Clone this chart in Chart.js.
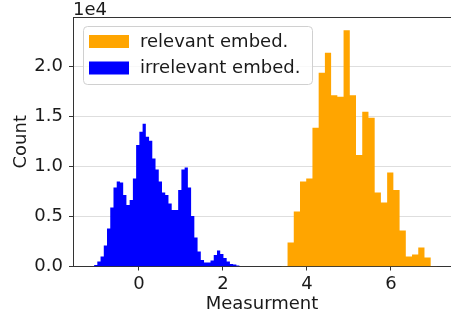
<!DOCTYPE html>
<html>
<head>
<meta charset="utf-8">
<script src="https://cdn.jsdelivr.net/npm/chart.js@4"></script>
<style>
body { margin: 0; background: #fff; }
#wrap { width: 451px; height: 320px; }
</style>
</head>
<body>
<div id="wrap"><canvas id="hist"></canvas></div>
<script>
const seriesNames = ['relevant embed.', 'irrelevant embed.'];
const seriesColors = ['#FFA500', '#0000FF'];

// histogram counts per bin
const relevantCounts = [50, 2400, 5500, 8500, 8800, 13900, 19400, 21400, 17150, 17000,
  23650, 17150, 11150, 15500, 14900, 7400, 6400, 9400, 7650, 3600, 1000, 1200, 1900, 900, 30];
const relevantStart = 3.389;
const relevantBinWidth = 0.1482;

const irrelevantCounts = [150, 500, 1000, 2100, 3800, 5900, 7900, 8500, 8400, 7150,
  6150, 6650, 8800, 12150, 13500, 14300, 13000, 12600, 10800, 9700,
  8500, 7400, 7150, 6300, 5650, 5650, 7650, 9700, 9900, 7900,
  5050, 2900, 1500, 650, 400, 400, 600, 1150, 1600, 1250,
  850, 500, 250, 200, 100];
const irrelevantStart = -1.069;
const irrelevantBinWidth = 0.077;

const xTicks = [0, 2, 4, 6];
const yTicks = [0, 5000, 10000, 15000, 20000];

const FONT = '"DejaVu Sans", sans-serif';
const FS = 18;

// bin edges -> step points (each count held until the next edge)
function toSteps(counts, start, width) {
    const pts = counts.map((c, i) => ({ x: start + i * width, y: c }));
    pts.push({ x: start + counts.length * width, y: 0 });
    return pts;
}

const extras = {
    id: 'extras',
    afterDraw(chart) {
        const { ctx, chartArea } = chart;
        const L = chartArea.left, T = chartArea.top;
        ctx.save();
        // top spine
        ctx.strokeStyle = '#333';
        ctx.lineWidth = 1;
        ctx.beginPath();
        ctx.moveTo(L, T + 0.5);
        ctx.lineTo(chartArea.right, T + 0.5);
        ctx.stroke();

        // offset label
        ctx.fillStyle = '#1a1a1a';
        ctx.font = FS + 'px ' + FONT;
        ctx.textBaseline = 'alphabetic';
        ctx.textAlign = 'left';
        ctx.fillText('1e4', L, T - 2);

        // legend box
        ctx.beginPath();
        ctx.roundRect(L + 10.5, T + 9.5, 229, 58, 4);
        ctx.fillStyle = 'rgba(255,255,255,0.8)';
        ctx.fill();
        ctx.strokeStyle = '#d0d0d0';
        ctx.stroke();

        seriesNames.forEach((name, i) => {
            const y = T + 18 + i * 26.5;
            ctx.fillStyle = seriesColors[i];
            ctx.fillRect(L + 16, y, 40, 13);
            ctx.fillStyle = '#1a1a1a';
            ctx.textBaseline = 'middle';
            ctx.fillText(name, L + 67, y + 7);
        });
        ctx.restore();
    }
};

const ctx = document.querySelector('#hist').getContext('2d');

new Chart(ctx, {
    type: 'line',
    data: {
        datasets: [{
            label: seriesNames[0],
            data: toSteps(relevantCounts, relevantStart, relevantBinWidth),
            backgroundColor: seriesColors[0],
            borderColor: 'rgba(0,0,0,0)',
            borderWidth: 0,
            stepped: 'before',
            fill: 'origin',
            pointRadius: 0
        }, {
            label: seriesNames[1],
            data: toSteps(irrelevantCounts, irrelevantStart, irrelevantBinWidth),
            backgroundColor: seriesColors[1],
            borderColor: 'rgba(0,0,0,0)',
            borderWidth: 0,
            stepped: 'before',
            fill: 'origin',
            pointRadius: 0
        }]
    },
    options: {
        responsive: true,
        maintainAspectRatio: false,
        animation: false,
        layout: { padding: { top: 17, right: 0, bottom: 0, left: 0 } },
        plugins: {
            legend: { display: false },
            tooltip: { enabled: false }
        },
        scales: {
            x: {
                type: 'linear',
                min: -1.571,
                max: 7.429,
                afterBuildTicks: s => { s.ticks = xTicks.map(v => ({ value: v })); },
                afterFit: s => { s.height = 53.5; },
                grid: { drawOnChartArea: false, drawTicks: true, tickLength: 4, tickColor: '#333' },
                border: { color: '#333', width: 1 },
                ticks: { color: '#1a1a1a', font: { family: FONT, size: FS }, padding: 3, maxRotation: 0 },
                title: { display: true, text: 'Measurment', color: '#1a1a1a', font: { family: FONT, size: FS }, padding: { top: 0, bottom: 5 } }
            },
            y: {
                min: 0,
                max: 24975,
                z: 1,
                afterBuildTicks: s => { s.ticks = yTicks.map(v => ({ value: v })); },
                afterFit: s => { s.width = 73; },
                grid: { color: 'rgba(0,0,0,0.13)', lineWidth: 1, drawTicks: true, tickLength: 4, tickColor: '#333' },
                border: { color: '#333', width: 1 },
                ticks: {
                    color: '#1a1a1a',
                    font: { family: FONT, size: FS },
                    padding: 6,
                    callback: v => (v / 1e4).toFixed(1)
                },
                title: { display: true, text: 'Count', color: '#1a1a1a', font: { family: FONT, size: FS }, padding: { top: 11, bottom: 0 } }
            }
        }
    },
    plugins: [extras]
});
</script>
</body>
</html>
